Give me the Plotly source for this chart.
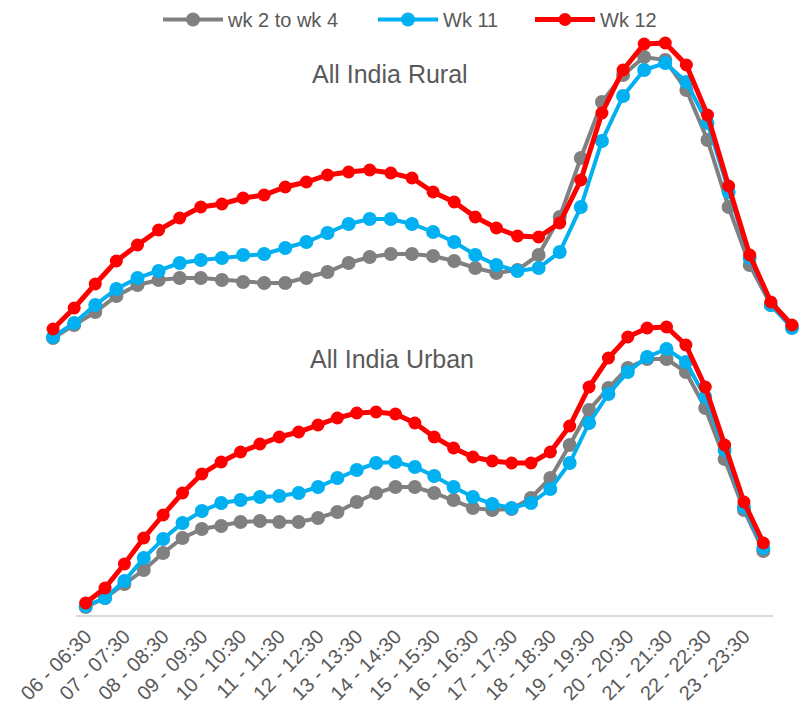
import plotly.graph_objects as go

# Half-hour time slots, 06:00 to 24:00
slots = [
    "06 - 06:30", "06:30 - 07", "07 - 07:30", "07:30 - 08", "08 - 08:30", "08:30 - 09",
    "09 - 09:30", "09:30 - 10", "10 - 10:30", "10:30 - 11", "11 - 11:30", "11:30 - 12",
    "12 - 12:30", "12:30 - 13", "13 - 13:30", "13:30 - 14", "14 - 14:30", "14:30 - 15",
    "15 - 15:30", "15:30 - 16", "16 - 16:30", "16:30 - 17", "17 - 17:30", "17:30 - 18",
    "18 - 18:30", "18:30 - 19", "19 - 19:30", "19:30 - 20", "20 - 20:30", "20:30 - 21",
    "21 - 21:30", "21:30 - 22", "22 - 22:30", "22:30 - 23", "23 - 23:30", "23:30 - 24",
]
tick_slots = slots[::2]

series_names = ["wk 2 to wk 4", "Wk 11", "Wk 12"]
series_colors = ["#808080", "#00B0F0", "#FF0000"]

# Viewing by time slot (index units)
rural_wk2_4 = [22, 35, 48, 64, 75, 80, 82, 82, 80, 78, 77, 77, 82, 88, 97, 103, 106, 106,
               104, 99, 92, 87, 90, 105, 143, 202, 258, 285, 303, 300, 270, 220, 153, 95, 55, 33]
rural_wk11 = [23, 37, 55, 71, 82, 89, 97, 100, 102, 105, 106, 112, 118, 127, 136, 141, 141, 136,
              128, 118, 105, 95, 89, 92, 108, 153, 219, 264, 290, 297, 278, 237, 168, 102, 55, 32]
rural_wk12 = [31, 52, 76, 99, 115, 130, 142, 153, 156, 162, 165, 173, 178, 185, 188, 190, 187, 182,
              168, 158, 143, 132, 124, 123, 137, 180, 247, 290, 316, 317, 295, 245, 174, 105, 58, 35]

urban_wk2_4 = [13, 22, 36, 50, 67, 82, 91, 94, 98, 99, 98, 98, 102, 108, 118, 127, 133, 133,
               127, 120, 112, 110, 111, 122, 142, 175, 210, 232, 252, 261, 261, 248, 212, 161, 110, 69]
urban_wk11 = [14, 22, 39, 62, 81, 97, 109, 117, 120, 123, 124, 127, 133, 142, 150, 157, 158, 153,
              144, 133, 123, 116, 112, 117, 131, 157, 197, 226, 248, 263, 271, 258, 223, 170, 113, 72]
urban_wk12 = [17, 32, 56, 82, 105, 127, 146, 158, 168, 176, 183, 188, 195, 202, 207, 208, 206, 197,
              183, 172, 163, 159, 157, 157, 168, 194, 233, 262, 283, 292, 293, 275, 233, 175, 118, 77]

rural = [rural_wk2_4, rural_wk11, rural_wk12]
urban = [urban_wk2_4, urban_wk11, urban_wk12]

line_widths = [4, 4, 5]
marker_sizes = [14, 14, 13]
legend_ids = ["legend", "legend2", "legend3"]
legend_x_px = [158, 373, 530]

W, H = 812, 714
fig = go.Figure()

for i, name in enumerate(series_names):
    fig.add_trace(go.Scatter(
        x=slots, y=rural[i], name=name, mode="lines+markers",
        line=dict(color=series_colors[i], width=line_widths[i]),
        marker=dict(color=series_colors[i], size=marker_sizes[i]),
        xaxis="x2", yaxis="y2", legendgroup=name, showlegend=True,
        legend=legend_ids[i],
    ))
for i, name in enumerate(series_names):
    fig.add_trace(go.Scatter(
        x=slots, y=urban[i], name=name, mode="lines+markers",
        line=dict(color=series_colors[i], width=line_widths[i]),
        marker=dict(color=series_colors[i], size=marker_sizes[i]),
        xaxis="x", yaxis="y", legendgroup=name, showlegend=False,
    ))

text_color = "#595959"
font_family = "Arial, Liberation Sans, sans-serif"


def legend_box(x_px):
    return dict(
        orientation="h", x=x_px / W, xanchor="left", y=1.0, yanchor="top",
        font=dict(size=20, color=text_color), itemwidth=60,
        bgcolor="rgba(0,0,0,0)",
    )


fig.update_layout(
    width=W, height=H,
    margin=dict(l=0, r=0, t=0, b=0, autoexpand=False),
    paper_bgcolor="white", plot_bgcolor="rgba(0,0,0,0)",
    font=dict(family=font_family, color=text_color),
    showlegend=True,
    legend=legend_box(legend_x_px[0]),
    legend2=legend_box(legend_x_px[1]),
    legend3=legend_box(legend_x_px[2]),
    xaxis=dict(
        type="category", categoryorder="array", categoryarray=slots,
        range=[-0.5, len(slots) - 0.5],
        domain=[76 / W, 773 / W], anchor="y", automargin=False,
        tickmode="array", tickvals=tick_slots, ticktext=tick_slots,
        tickangle=-45, tickfont=dict(size=20, color=text_color),
        showline=True, linecolor="#D9D9D9", linewidth=1.5,
        showgrid=False, zeroline=False, ticks="",
    ),
    yaxis=dict(
        domain=[1 - 615 / H, 1 - 300 / H], range=[5, 320], anchor="x", automargin=False,
        showgrid=False, zeroline=False, showticklabels=False, showline=False,
    ),
    xaxis2=dict(
        type="category", categoryorder="array", categoryarray=slots,
        range=[-0.5, len(slots) - 0.5],
        domain=[42.5 / W, 802.5 / W], anchor="y2", automargin=False,
        showticklabels=False, showline=False, showgrid=False, zeroline=False, ticks="",
    ),
    yaxis2=dict(
        domain=[1 - 360 / H, 1 - 30 / H], range=[0, 330], anchor="x2", automargin=False,
        showgrid=False, zeroline=False, showticklabels=False, showline=False,
    ),
    annotations=[
        dict(text="All India Rural", x=390 / W, y=1 - 74 / H, xref="paper", yref="paper",
             xanchor="center", yanchor="middle", showarrow=False,
             font=dict(size=25, color=text_color)),
        dict(text="All India Urban", x=392 / W, y=1 - 359 / H, xref="paper", yref="paper",
             xanchor="center", yanchor="middle", showarrow=False,
             font=dict(size=25, color=text_color)),
    ],
)

fig.write_html("out.html")
